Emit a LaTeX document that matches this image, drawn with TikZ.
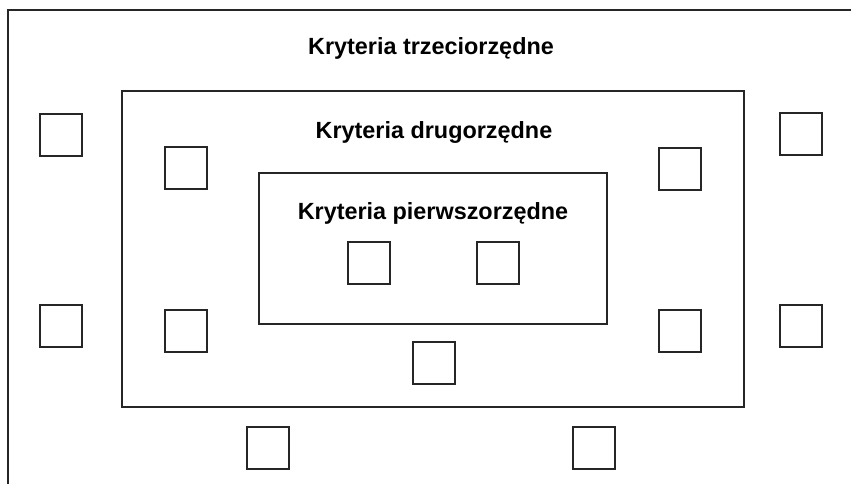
\documentclass[tikz,border=0pt]{standalone}
\usepackage{fontspec}
\setmainfont{Liberation Sans}
\begin{document}
\begin{tikzpicture}[x=1pt,y=-1pt,
  frame/.style={draw=black!85,line width=1.6pt},
  sq/.style={draw=black!85,line width=1.4pt,minimum width=42pt,minimum height=42pt,inner sep=0pt},
  lbl/.style={font=\bfseries\fontsize{23.4}{27}\selectfont,inner sep=0pt}]
\useasboundingbox (0,0) rectangle (851,484);
\coordinate (tl) at (8,10);
\coordinate (tr) at (851,10);
\coordinate (bl) at (8,484);
\draw[frame] (bl) -- (tl) -- (tr);
\node[frame,minimum width=622pt,minimum height=316pt,inner sep=0pt] (mid) at (433,249) {};
\node[frame,minimum width=348pt,minimum height=151pt,inner sep=0pt] (inn) at (433,248.5) {};
\node[lbl] (t3) at (431,48) {Kryteria trzeciorzędne};
\node[lbl] (t2) at (434,133) {Kryteria drugorzędne};
\node[lbl] (t1) at (433,213) {Kryteria pierwszorzędne};
\node[sq] (s1) at (61,135) {};
\node[sq] (s2) at (801,134) {};
\node[sq] (s3) at (61,326) {};
\node[sq] (s4) at (801,326) {};
\node[sq] (s5) at (186,168) {};
\node[sq] (s6) at (680,169) {};
\node[sq] (s7) at (186,331) {};
\node[sq] (s8) at (680,331) {};
\node[sq] (s9) at (434,363) {};
\node[sq] (s10) at (369,263) {};
\node[sq] (s11) at (498,263) {};
\node[sq] (s12) at (268,448) {};
\node[sq] (s13) at (594,448) {};
\end{tikzpicture}
\end{document}
